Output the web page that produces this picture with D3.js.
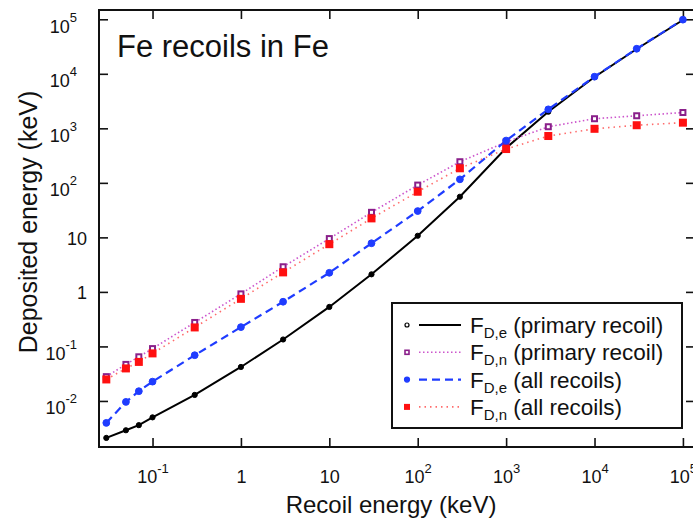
<!DOCTYPE html>
<html><head><meta charset="utf-8">
<script src="https://cdn.jsdelivr.net/npm/d3@7"></script>
<style>
html,body{margin:0;padding:0;background:#fff;}
text{font-family:"Liberation Sans",Arial,Helvetica,sans-serif;fill:#111;}
</style></head>
<body><svg id="c" width="693" height="520"></svg>
<script>
// ---- data ----
const recoilEnergy = [0.03, 0.05, 0.07, 0.1, 0.3, 1, 3, 10, 30, 100, 300, 1000, 3000, 1e4, 3e4, 1e5];
const fdePrimary = [0.0021, 0.0029, 0.0036, 0.0050, 0.0129, 0.042, 0.134, 0.53, 2.1, 10.7, 55.6, 435, 2020, 8730, 28500, 97000];
const fdnPrimary = [0.0279, 0.0468, 0.0645, 0.0912, 0.275, 0.92, 2.89, 9.5, 28.8, 91, 244, 561, 1070, 1500, 1700, 1950];
const fdeAll = [0.00396, 0.0096, 0.0151, 0.0226, 0.069, 0.226, 0.66, 2.24, 7.8, 30.4, 116, 597, 2230, 8850, 28800, 98400];
const fdnAll = [0.0248, 0.0395, 0.052, 0.0745, 0.223, 0.746, 2.28, 7.5, 22.3, 68.7, 185, 417, 723, 980, 1140, 1270];

const xTickValues = [0.1, 1, 10, 100, 1000, 1e4, 1e5];
const xTickBase = ["10", "1", "10", "10", "10", "10", "10"];
const xTickSup = ["-1", "", "", "2", "3", "4", "5"];
const yTickValues = [1e5, 1e4, 1e3, 100, 10, 1, 0.1, 0.01];
const yTickBase = ["10", "10", "10", "10", "10", "1", "10", "10"];
const yTickSup = ["5", "4", "3", "2", "", "", "-1", "-2"];

const seriesNames = ["primary recoil", "primary recoil", "all recoils", "all recoils"];
const seriesSub = ["D,e", "D,n", "D,e", "D,n"];

// ---- layout ----
const L = 99, T = 10, R = 695, B = 447;
const svg = d3.select("#c");
const x = d3.scaleLog().domain([0.0248, 1.37e5]).range([L, R]);
const y = d3.scaleLog().domain([0.00143, 1.48e5]).range([B, T]);

const tickFont = 18, supFont = 13;

// axes with inward ticks on all sides
const gx = svg.append("g").attr("transform", `translate(0,${B})`)
  .call(d3.axisBottom(x).tickValues(xTickValues).tickSize(-9).tickFormat(""));
const gxt = svg.append("g").attr("transform", `translate(0,${T})`)
  .call(d3.axisTop(x).tickValues(xTickValues).tickSize(-9).tickFormat(""));
const gy = svg.append("g").attr("transform", `translate(${L},0)`)
  .call(d3.axisLeft(y).tickValues(yTickValues).tickSize(-9).tickFormat(""));
const gyr = svg.append("g").attr("transform", `translate(${R},0)`)
  .call(d3.axisRight(y).tickValues(yTickValues).tickSize(-9).tickFormat(""));
[gx, gxt, gy, gyr].forEach(g => {
  g.select(".domain").remove();
  g.selectAll(".tick line").attr("stroke", "#111").attr("stroke-width", 1.6);
});

// x tick labels (whole label centred on the tick)
gx.selectAll(".tick").each(function(d, i) {
  const t = d3.select(this).append("text").attr("y", 36).attr("font-size", tickFont)
    .attr("text-anchor", "middle").attr("fill", "#111");
  t.append("tspan").text(xTickBase[i]);
  if (xTickSup[i]) {
    t.append("tspan").attr("font-size", supFont).attr("dy", -10).text(xTickSup[i]);
  }
});
// y tick labels
gy.selectAll(".tick").each(function(d, i) {
  const g = d3.select(this);
  if (yTickSup[i]) {
    const s = g.append("text").attr("x", -22).attr("y", 2).attr("font-size", supFont)
      .attr("text-anchor", "end").attr("fill", "#111").text(yTickSup[i]);
    const sw = s.node().getComputedTextLength();
    g.append("text").attr("x", -22 - sw).attr("y", 13).attr("font-size", tickFont)
      .attr("text-anchor", "end").attr("fill", "#111").text(yTickBase[i]);
  } else {
    g.append("text").attr("x", -12).attr("y", 7).attr("font-size", tickFont)
      .attr("text-anchor", "end").attr("fill", "#111").text(yTickBase[i]);
  }
});

// frame
svg.append("rect").attr("x", L).attr("y", T).attr("width", R - L).attr("height", B - T)
  .attr("fill", "none").attr("stroke", "#111").attr("stroke-width", 2);

// axis titles
svg.append("text").attr("x", 391).attr("y", 513).attr("text-anchor", "middle")
  .attr("font-size", 24).text("Recoil energy (keV)");
svg.append("text").attr("transform", "translate(37,222) rotate(-90)")
  .attr("text-anchor", "middle").attr("font-size", 25).text("Deposited energy (keV)");
// title
svg.append("text").attr("x", 117).attr("y", 57).attr("font-size", 31).text("Fe recoils in Fe");

// series
const styles = [
  {vals: fdePrimary, line: "#000000", width: 2, dash: null, marker: "circle", mfill: "#000", mstroke: "#000", ms: 2.6, lfill: "#fff"},
  {vals: fdnPrimary, line: "#cc55cc", width: 1.6, dash: "1.5,2.5", marker: "square", mfill: "#fff", mstroke: "#8a1f8a", ms: 7, lfill: "#fff"},
  {vals: fdeAll, line: "#1f3cff", width: 2.2, dash: "8,5", marker: "circle", mfill: "#1f3cff", mstroke: "#1f3cff", ms: 3.4, lfill: "#1f3cff"},
  {vals: fdnAll, line: "#ff6b6b", width: 1.6, dash: "1.5,4", marker: "square", mfill: "#ff1010", mstroke: "#ff1010", ms: 8, lfill: "#ff1010"}
];
const line = d3.line().x(d => x(d[0])).y(d => y(d[1]));
const plot = svg.append("g");
styles.forEach(s => {
  const pts = recoilEnergy.map((e, i) => [e, s.vals[i]]);
  plot.append("path").datum(pts).attr("d", line).attr("fill", "none")
    .attr("stroke", s.line).attr("stroke-width", s.width)
    .attr("stroke-dasharray", s.dash);
});
styles.forEach(s => {
  const pts = recoilEnergy.map((e, i) => [e, s.vals[i]]);
  if (s.marker === "circle") {
    plot.selectAll(null).data(pts).enter().append("circle")
      .attr("cx", d => x(d[0])).attr("cy", d => y(d[1])).attr("r", s.ms)
      .attr("fill", s.mfill).attr("stroke", s.mstroke).attr("stroke-width", 1);
  } else {
    const h = s.mfill === "#fff" ? s.ms - 2 : s.ms;
    plot.selectAll(null).data(pts).enter().append("rect")
      .attr("x", d => x(d[0]) - h / 2).attr("y", d => y(d[1]) - h / 2)
      .attr("width", h).attr("height", h)
      .attr("fill", s.mfill).attr("stroke", s.mfill === "#fff" ? s.mstroke : "none")
      .attr("stroke-width", 2);
  }
});

// legend
const lg = svg.append("g");
lg.append("rect").attr("x", 392).attr("y", 303).attr("width", 290).attr("height", 125)
  .attr("fill", "#fff").attr("stroke", "#111").attr("stroke-width", 2);
styles.forEach((s, i) => {
  const cy = 325 + i * 27.3;
  lg.append("line").attr("x1", 419).attr("x2", 461).attr("y1", cy).attr("y2", cy)
    .attr("stroke", s.line).attr("stroke-width", s.width).attr("stroke-dasharray", s.dash);
  if (s.marker === "circle") {
    lg.append("circle").attr("cx", 407).attr("cy", cy).attr("r", i === 0 ? 2 : 2.5)
      .attr("fill", s.lfill).attr("stroke", s.mstroke).attr("stroke-width", 1.2);
  } else {
    const h = s.mfill === "#fff" ? 4 : 6;
    lg.append("rect").attr("x", 407 - h / 2).attr("y", cy - h / 2).attr("width", h).attr("height", h)
      .attr("fill", s.lfill).attr("stroke", s.mfill === "#fff" ? s.mstroke : "none").attr("stroke-width", 1.6);
  }
  const t = lg.append("text").attr("x", 470).attr("y", cy + 8).attr("font-size", 22.5);
  t.append("tspan").text("F");
  t.append("tspan").attr("font-size", 15).attr("dy", 5).text(seriesSub[i]);
  t.append("tspan").attr("dy", -5).text(" (" + seriesNames[i] + ")");
});
</script></body></html>
